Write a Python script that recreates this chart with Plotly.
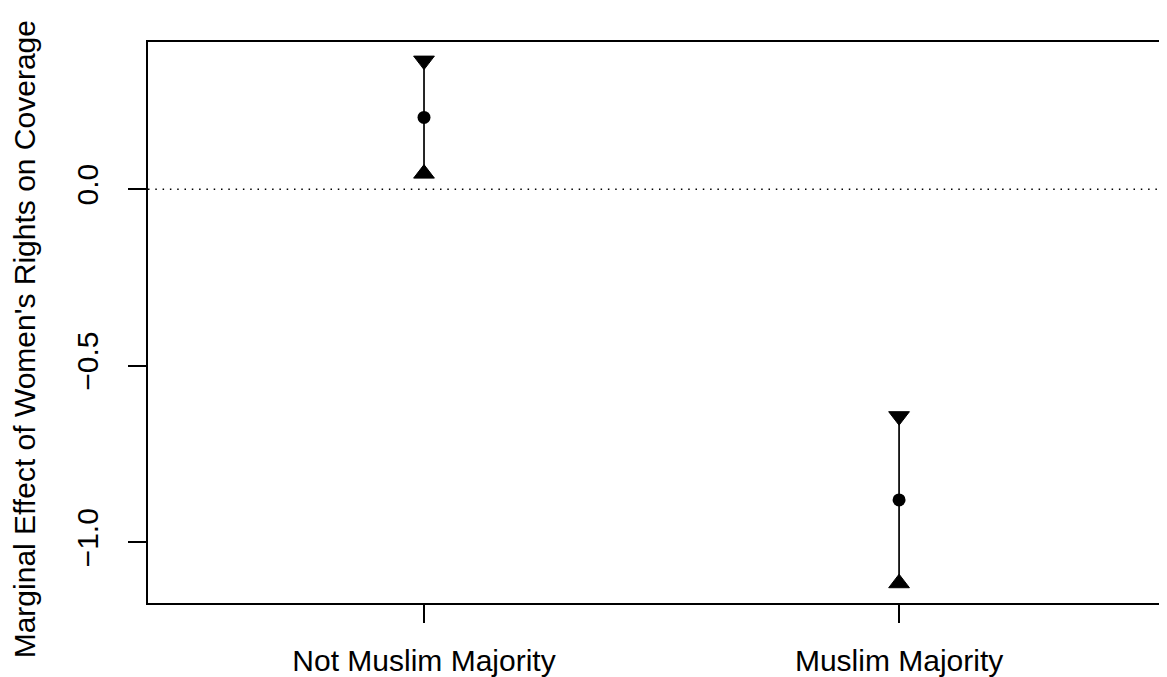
import plotly.graph_objects as go

categories = ["Not Muslim Majority", "Muslim Majority"]
estimate = [0.203, -0.880]
upper = [0.364, -0.643]
lower = [0.044, -1.116]
y_ticks = [0.0, -0.5, -1.0]
y_tick_labels = ["0.0", "\u22120.5", "\u22121.0"]
y_title = "Marginal Effect of Women's Rights on Coverage"

FONT = "Liberation Sans, Arial, Helvetica, sans-serif"

fig = go.Figure()

fig.add_trace(go.Scatter(
    x=categories, y=estimate, mode="markers",
    marker=dict(symbol="circle", size=13, color="black"),
    error_y=dict(type="data", symmetric=False,
                 array=[u - e for u, e in zip(upper, estimate)],
                 arrayminus=[e - l for e, l in zip(estimate, lower)],
                 width=0, thickness=1.7, color="black"),
    showlegend=False, hoverinfo="skip"))

fig.add_trace(go.Scatter(
    x=categories, y=upper, mode="markers",
    marker=dict(symbol="triangle-down", size=18, color="black",
                line=dict(color="black", width=1)),
    showlegend=False, hoverinfo="skip"))

fig.add_trace(go.Scatter(
    x=categories, y=lower, mode="markers",
    marker=dict(symbol="triangle-up", size=18, color="black",
                line=dict(color="black", width=1)),
    showlegend=False, hoverinfo="skip"))

fig.add_shape(type="line", xref="paper", yref="y", x0=0, x1=1, y0=0, y1=0,
              line=dict(color="black", width=1.5, dash="1.5px,5.8px"), layer="below")

# y-axis title as a rotated annotation, placed a bit lower than plot centre
fig.add_annotation(text=y_title, textangle=-90, showarrow=False,
                   xref="paper", yref="paper", x=-0.1217, y=0.47,
                   xanchor="center", yanchor="middle",
                   font=dict(family=FONT, size=30, color="black"))

# page body has an 8px margin, so the figure is offset by 8px
fig.update_layout(
    width=1159, height=669,
    margin=dict(l=140, r=0, t=34, b=72, pad=0),
    paper_bgcolor="white", plot_bgcolor="white",
    font=dict(family=FONT, size=30, color="black"),
    xaxis=dict(
        type="category", range=[-0.581, 1.564],
        showgrid=False, zeroline=False,
        showline=True, linecolor="black", linewidth=2, mirror=True,
        ticks="outside", ticklen=18, tickwidth=1.5, tickcolor="black",
        tickfont=dict(family=FONT, size=30, color="black"),
        ticklabelstandoff=12,
    ),
    yaxis=dict(
        range=[-1.172, 0.4167],
        showgrid=False, zeroline=False,
        showline=True, linecolor="black", linewidth=2, mirror=False,
        ticks="outside", ticklen=18, tickwidth=1.5, tickcolor="black",
        tickvals=y_ticks, ticktext=y_tick_labels, tickangle=-90,
        tickfont=dict(family=FONT, size=30, color="black"),
        ticklabelstandoff=18,
    ),
)

fig.write_html("out.html")
